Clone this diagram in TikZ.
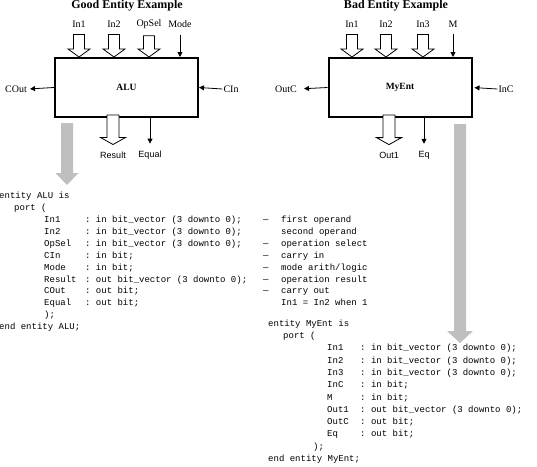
\documentclass[tikz,border=0pt]{standalone}
\usepackage{fontspec}
\setmainfont{Liberation Serif}
\setsansfont{Liberation Sans}
\setmonofont{Liberation Mono}
\usetikzlibrary{arrows.meta,calc}

% wide arrow pointing down: style, from, to, half shaft, half head, head length
\newcommand{\fatarrow}[6]{%
  \path[#1] let \p1=(#2), \p2=(#3) in
    (\x1-#4,\y1) -- (\x1+#4,\y1) -- (\x1+#4,\y2+#6) -- (\x1+#5,\y2+#6)
    -- (\x1,\y2) -- (\x1-#5,\y2+#6) -- (\x1-#4,\y2+#6) -- cycle;}
\newcommand{\dsh}{\makebox[18pt][l]{—}}
\newcommand{\nodsh}{\hspace*{18pt}}

\begin{document}
\begin{tikzpicture}[x=1pt, y=-1pt]
\tikzset{entbox/.style={draw, line width=2pt, minimum width=143pt, minimum height=59pt,
    inner sep=0pt, font=\bfseries\fontsize{9.5}{11}\selectfont},
  title/.style={font=\bfseries\fontsize{12}{14}\selectfont},
  port/.style={font=\fontsize{10}{12}\selectfont, inner sep=1pt},
  outport/.style={font=\sffamily\fontsize{9}{11}\selectfont, inner sep=1pt},
  sig/.style={line width=0.8pt, -{Triangle[width=5pt,length=5pt]}},
  bus/.style={draw, line width=0.8pt, fill=white},
  flow/.style={fill=black!25},
  code/.style={inner sep=0pt, anchor=north west}}
\useasboundingbox (0,0) rectangle (537,466);

% Good entity
\node[title] (goodttl) at (127,6) {Good Entity Example};
\node[entbox] (alu) at (126.5,87.5) {ALU};
\node[port] (in1) at (79,24) {In1};
\node[port] (in2) at (114,24) {In2};
\node[port] (opsel) at (149,24) {OpSel};
\node[port] (mode) at (180,24) {Mode};
\node[port] (cout) at (16,89) {COut};
\node[port] (cin) at (231,89) {CIn};
\node[outport] (result) at (113,155) {Result};
\node[outport] (equal) at (150,155) {Equal};

\fatarrow{bus}{$(in1.south)+(0,6)$}{alu.north -| in1}{5.5pt}{11pt}{8pt}
\fatarrow{bus}{$(in2.south)+(0,6)$}{alu.north -| in2}{5.5pt}{11pt}{8pt}
\fatarrow{bus}{$(opsel.south)+(0,6)$}{alu.north -| opsel}{5.5pt}{11pt}{8pt}
\draw[sig] ($(mode.south)+(0,6)$) -- (alu.north -| mode);
\draw[sig, shorten >=2pt] (alu.west) -- (cout.east);
\draw[sig] (cin.west) -- (alu.east);
\fatarrow{bus}{$(alu.south -| result)+(0,-3)$}{$(result.north)+(0,-6)$}{6pt}{12.5pt}{7pt}
\draw[sig, shorten >=6pt] (alu.south -| equal) -- (equal.north);

% Bad entity
\node[title] (badttl) at (396,6) {Bad Entity Example};
\node[entbox] (myent) at (400,87.5) {MyEnt};
\node[port] (bin1) at (352,24) {In1};
\node[port] (bin2) at (386,24) {In2};
\node[port] (bin3) at (423,24) {In3};
\node[port] (bm) at (453,24) {M};
\node[port] (boutc) at (286,89) {OutC};
\node[port] (binc) at (506,89) {InC};
\node[outport] (bout1) at (389,155) {Out1};
\node[outport] (beq) at (424,155) {Eq};

\fatarrow{bus}{$(bin1.south)+(0,6)$}{myent.north -| bin1}{5.5pt}{11pt}{8pt}
\fatarrow{bus}{$(bin2.south)+(0,6)$}{myent.north -| bin2}{5.5pt}{11pt}{8pt}
\fatarrow{bus}{$(bin3.south)+(0,6)$}{myent.north -| bin3}{5.5pt}{11pt}{8pt}
\draw[sig] ($(bm.south)+(0,6)$) -- (myent.north -| bm);
\draw[sig, shorten >=6pt] (myent.west) -- (boutc.east);
\draw[sig, shorten >=2pt] (binc.west) -- (myent.east);
\fatarrow{bus}{$(myent.south -| bout1)+(0,-3)$}{$(bout1.north)+(0,-6)$}{6pt}{12.5pt}{7pt}
\draw[sig, shorten >=6pt] (myent.south -| beq) -- (beq.north);

% to the code
\coordinate (goodsrc) at (67,123);
\coordinate (gooddst) at (67,185);
\fatarrow{flow}{goodsrc}{gooddst}{6pt}{11.5pt}{12pt}
\coordinate (badsrc) at (460,124);
\coordinate (baddst) at (460,343);
\fatarrow{flow}{badsrc}{baddst}{6pt}{13pt}{12pt}

\node[code, font=\ttfamily\fontsize{9}{11.9}\selectfont] (alucode) at (-1,190.2) {%
\begin{tabular}{@{\hspace*{45pt}}p{41pt}@{}p{178pt}@{}l@{}}
\multicolumn{3}{@{}l@{}}{entity ALU is}\\
\multicolumn{3}{@{\hspace*{15pt}}l@{}}{port (}\\
In1 & : in bit\_vector (3 downto 0); & \dsh first operand\\
In2 & : in bit\_vector (3 downto 0); & \nodsh second operand\\
OpSel & : in bit\_vector (3 downto 0); & \dsh operation select\\
CIn & : in bit; & \dsh carry in\\
Mode & : in bit; & \dsh mode arith/logic\\
Result & : out bit\_vector (3 downto 0); & \dsh operation result\\
COut & : out bit; & \dsh carry out\\
Equal & : out bit; & \nodsh In1 = In2 when 1\\
\multicolumn{3}{@{\hspace*{45pt}}l@{}}{);}\\
\multicolumn{3}{@{}l@{}}{end entity ALU;}
\end{tabular}};

\node[code, font=\ttfamily\fontsize{9}{12.3}\selectfont] (myentcode) at (268,317.4) {%
\begin{tabular}{@{\hspace*{59pt}}p{33pt}@{}l@{}}
\multicolumn{2}{@{}l@{}}{entity MyEnt is}\\
\multicolumn{2}{@{\hspace*{15pt}}l@{}}{port (}\\
In1 & : in bit\_vector (3 downto 0);\\
In2 & : in bit\_vector (3 downto 0);\\
In3 & : in bit\_vector (3 downto 0);\\
InC & : in bit;\\
M & : in bit;\\
Out1 & : out bit\_vector (3 downto 0);\\
OutC & : out bit;\\
Eq & : out bit;\\
\multicolumn{2}{@{\hspace*{45pt}}l@{}}{);}\\
\multicolumn{2}{@{}l@{}}{end entity MyEnt;}
\end{tabular}};
\end{tikzpicture}
\end{document}
